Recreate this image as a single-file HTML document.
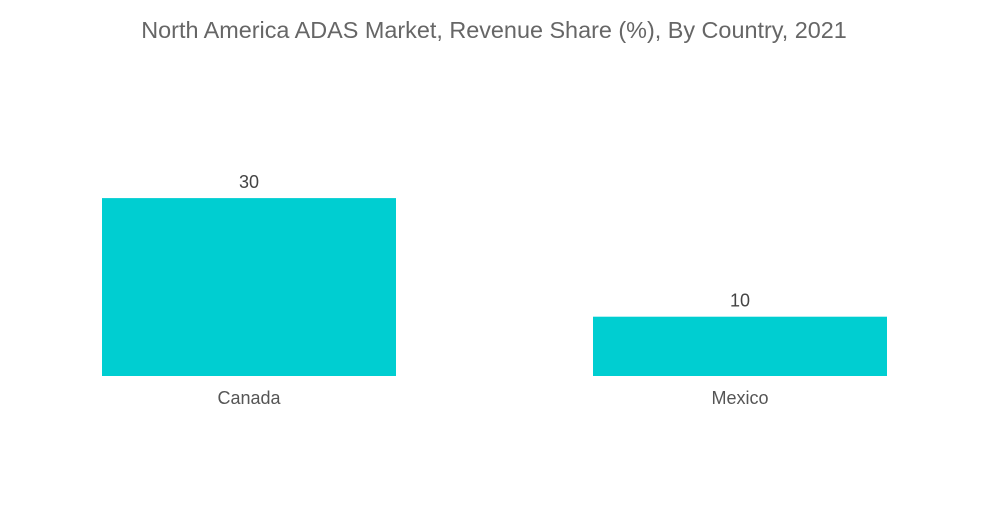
<!DOCTYPE html>
<html><head><meta charset="utf-8">
<style>
html,body{margin:0;padding:0;background:#fff;}
body{width:1000px;height:504px;overflow:hidden;font-family:"Liberation Sans",sans-serif;}
</style></head>
<body>
<svg id="chart" width="1000" height="504" xmlns="http://www.w3.org/2000/svg">
<text x="494" y="38" text-anchor="middle" font-size="23.4" fill="#666" font-family="Liberation Sans, sans-serif">North America ADAS Market, Revenue Share (%), By Country, 2021</text>
<g id="bars"></g>
</svg>
<script>
const categories = ["Canada", "Mexico"];
const values = [30, 10];
const baseline = 376, pxPerUnit = 5.93;
const barLeft = [102, 593], barW = 294;
function y(v){return baseline - v*pxPerUnit;}
const g = document.getElementById('bars');
const ns = "http://www.w3.org/2000/svg";
categories.forEach((c,i)=>{
  const r = document.createElementNS(ns,'rect');
  
  
  r.setAttribute('x', barLeft[i]); r.setAttribute('width', barW);
  r.setAttribute('y', y(values[i])); r.setAttribute('height', baseline - y(values[i]));
  r.setAttribute('fill', '#00ced1');
  g.appendChild(r);
  const t = document.createElementNS(ns,'text');
  
  
  t.setAttribute('x', barLeft[i] + barW/2); t.setAttribute('y', y(values[i]) - 10);
  t.setAttribute('text-anchor','middle'); t.setAttribute('font-size','18'); t.setAttribute('fill','#444');
  t.textContent = values[i];
  g.appendChild(t);
  const l = document.createElementNS(ns,'text');
  
  
  l.setAttribute('x', barLeft[i] + barW/2); l.setAttribute('y', baseline + 28);
  l.setAttribute('text-anchor','middle'); l.setAttribute('font-size','18'); l.setAttribute('fill','#555');
  l.textContent = c;
  g.appendChild(l);
});
</script>
</body></html>
